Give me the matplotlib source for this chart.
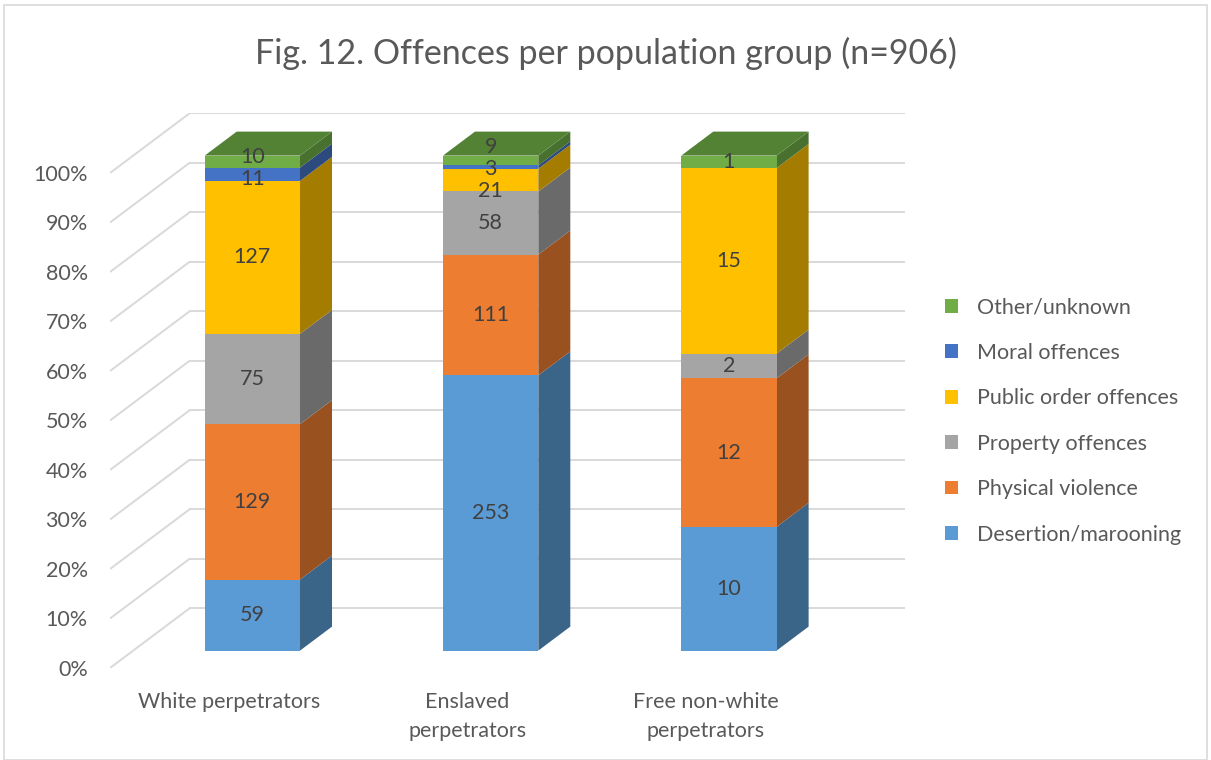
import numpy as np
import matplotlib.pyplot as plt
from matplotlib.patches import Polygon, Patch, Rectangle

plt.rcParams['font.family'] = ['Lato', 'DejaVu Sans']

groups = ["White perpetrators", "Enslaved\nperpetrators", "Free non-white\nperpetrators"]
offences = ["Desertion/marooning", "Physical violence", "Property offences",
            "Public order offences", "Moral offences", "Other/unknown"]
desertion = [59, 253, 10]
physical = [129, 111, 12]
property_off = [75, 58, 2]
public_order = [127, 21, 15]
moral = [11, 3, 0]
other = [10, 9, 1]

colors = ["#5B9BD5", "#ED7D31", "#A5A5A5", "#FFC000", "#4472C4", "#70AD47"]

counts = np.array([desertion, physical, property_off, public_order, moral, other], dtype=float)
shares = counts / counts.sum(axis=0) * 100
bottoms = np.vstack([np.zeros(len(groups)), np.cumsum(shares, axis=0)[:-1]])

# oblique projection of the depth axis (in category / percent units)
DX, DY = 0.3357, 12.12
Z_FRONT, Z_BACK = 0.29, 0.69
BAR_W = 0.4
LABEL_GAP = 4.4  # minimum spacing between stacked value labels, in percent


def proj(x, y, z):
    return (x + z * DX, y + z * DY)


def shade(c, f):
    r, g, b = plt.matplotlib.colors.to_rgb(c)
    return (r * f, g * f, b * f)


def spread(pos, gap):
    # push crowded labels apart, keeping each crowd centred on its segments
    clusters = [[p] for p in pos]
    merged = True
    while merged:
        merged = False
        for j in range(len(clusters) - 1):
            a, b = clusters[j], clusters[j + 1]
            top_a = np.mean(a) + (len(a) - 1) / 2 * gap
            bot_b = np.mean(b) - (len(b) - 1) / 2 * gap
            if bot_b - top_a < gap:
                clusters[j:j + 2] = [a + b]
                merged = True
                break
    out = []
    for c in clusters:
        m = np.mean(c)
        out += [m + (j - (len(c) - 1) / 2) * gap for j in range(len(c))]
    return out


fig = plt.figure(figsize=(12.11, 7.6), dpi=100)
ax = fig.add_axes([110 / 1211, 92 / 760, 795 / 1211, 555 / 760])
ax.set_xlim(-0.5, -0.5 + 795 / 238.3)
ax.set_ylim(0, 100 + DY)
for s in ax.spines.values():
    s.set_visible(False)

grid_c = "#D9D9D9"
ticks = np.arange(0, 101, 10)
for t in ticks:
    x0, y0 = proj(-0.5, t, 0)
    x1, y1 = proj(-0.5, t, 1)
    ax.plot([x0, x1], [y0, y1], color=grid_c, lw=1.4, zorder=1, solid_capstyle='butt')
    ax.plot([x1, ax.get_xlim()[1]], [y1, y1], color=grid_c, lw=1.4, zorder=1)

for i in range(len(groups)):
    xl, xr = i - BAR_W / 2, i + BAR_W / 2
    present = [k for k in range(len(offences)) if shares[k, i] > 0]
    for k in present:
        y0 = bottoms[k, i]
        y1 = y0 + shares[k, i]
        side = [proj(xr, y0, Z_FRONT), proj(xr, y0, Z_BACK),
                proj(xr, y1, Z_BACK), proj(xr, y1, Z_FRONT)]
        ax.add_patch(Polygon(side, closed=True, facecolor=shade(colors[k], 0.645),
                             edgecolor='none', zorder=2))
        front = [proj(xl, y0, Z_FRONT), proj(xr, y0, Z_FRONT),
                 proj(xr, y1, Z_FRONT), proj(xl, y1, Z_FRONT)]
        ax.add_patch(Polygon(front, closed=True, facecolor=colors[k],
                             edgecolor='none', zorder=3))
    mids = [bottoms[k, i] + shares[k, i] / 2 for k in present]
    for k, m in zip(present, spread(mids, LABEL_GAP)):
        lx, ly = proj(i, m, Z_FRONT)
        ax.text(lx, ly, f"{int(counts[k, i])}", ha='center', va='center',
                fontsize=15.5, color='#404040', zorder=5)
    top = [proj(xl, 100, Z_FRONT), proj(xr, 100, Z_FRONT),
           proj(xr, 100, Z_BACK), proj(xl, 100, Z_BACK)]
    ax.add_patch(Polygon(top, closed=True, facecolor=shade(colors[present[-1]], 0.75),
                         edgecolor='none', zorder=4))

ax.set_yticks(ticks)
ax.set_yticklabels([f"{t}%" for t in ticks])
ax.set_xticks(range(len(groups)))
ax.set_xticklabels(groups, linespacing=1.6)
ax.tick_params(axis='y', length=0, pad=16, labelsize=15.5, labelcolor='#595959')
ax.tick_params(axis='x', length=0, pad=17, labelsize=15.5, labelcolor='#595959')

handles = [Patch(facecolor=c, edgecolor='none') for c in colors]
fig.legend(handles[::-1], offences[::-1], loc='center left',
           bbox_to_anchor=(926 / 1211, 1 - 421 / 760), frameon=False,
           fontsize=15.5, labelcolor='#595959', handlelength=0.6, handleheight=0.6,
           handletextpad=0.85, labelspacing=1.18)

fig.text(0.5, 1 - 53 / 760, "Fig. 12. Offences per population group (n=906)",
         ha='center', va='center', fontsize=24.5, color='#595959')

fig.patches.append(Rectangle((4 / 1211, 0), 1 - 8 / 1211, 1 - 5 / 760, transform=fig.transFigure,
                             fill=False, edgecolor=grid_c, lw=1.2))

fig.savefig("out.png", dpi=100)
